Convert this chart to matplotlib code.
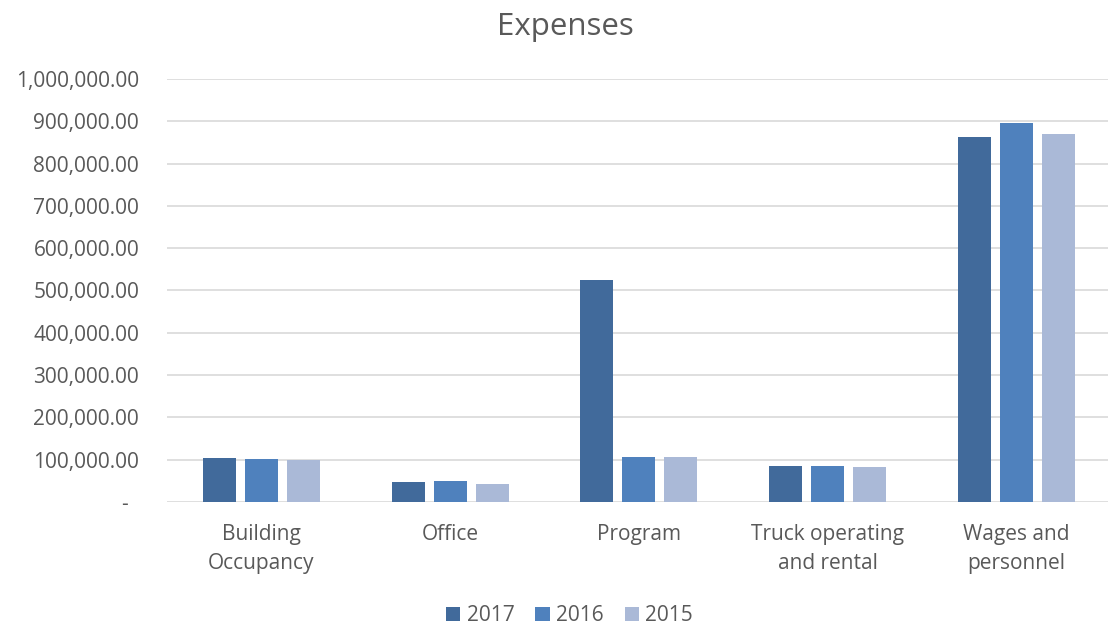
import numpy as np
import matplotlib.pyplot as plt
from matplotlib.ticker import FuncFormatter

categories = ['Building\nOccupancy', 'Office', 'Program', 'Truck operating\nand rental', 'Wages and\npersonnel']
years = ['2017', '2016', '2015']
v2017 = [104700, 47800, 525000, 86000, 864000]
v2016 = [102000, 48500, 106000, 86000, 895000]
v2015 = [99000, 41500, 106000, 82000, 869000]
colors = ['#416A9B', '#4F81BD', '#AAB9D7']

plt.rcParams['font.family'] = ['Open Sans', 'DejaVu Sans']
txt = '#595959'

fig = plt.figure(figsize=(11.08, 6.27), dpi=100)
ax = fig.add_axes([0.1507, 0.1994, 0.8493, 0.6746])

x = np.arange(len(categories))
w = 0.175
step = 0.2225
for i, (vals, yr) in enumerate(zip([v2017, v2016, v2015], years)):
    ax.bar(x + (i - 1) * step, vals, width=w, color=colors[i], label=yr, zorder=3)

ax.set_xlim(-0.5, 4.485)
ax.set_ylim(0, 1000000)
ax.set_yticks(np.arange(0, 1000001, 100000))
ax.yaxis.set_major_formatter(FuncFormatter(lambda v, p: '-  ' if v == 0 else f'{v:,.2f}'))
ax.grid(axis='y', color='#D9D9D9', linewidth=1.2, zorder=0)
for s in ax.spines.values():
    s.set_visible(False)
ax.tick_params(axis='both', length=0, labelsize=15, colors=txt)
ax.tick_params(axis='y', pad=20)
ax.set_xticks(x)
ax.set_xticklabels(categories, linespacing=1.5)
ax.tick_params(axis='x', pad=16)

fig.text(0.5104, 0.957, 'Expenses', ha='center', va='center', fontsize=22.5, color=txt)
fig.legend(loc='center', bbox_to_anchor=(0.514, 0.018), ncol=3, frameon=False,
           fontsize=15, labelcolor=txt, handlelength=0.7, handleheight=0.7,
           handletextpad=0.3, columnspacing=1.0)

fig.savefig('out.png', dpi=100)
